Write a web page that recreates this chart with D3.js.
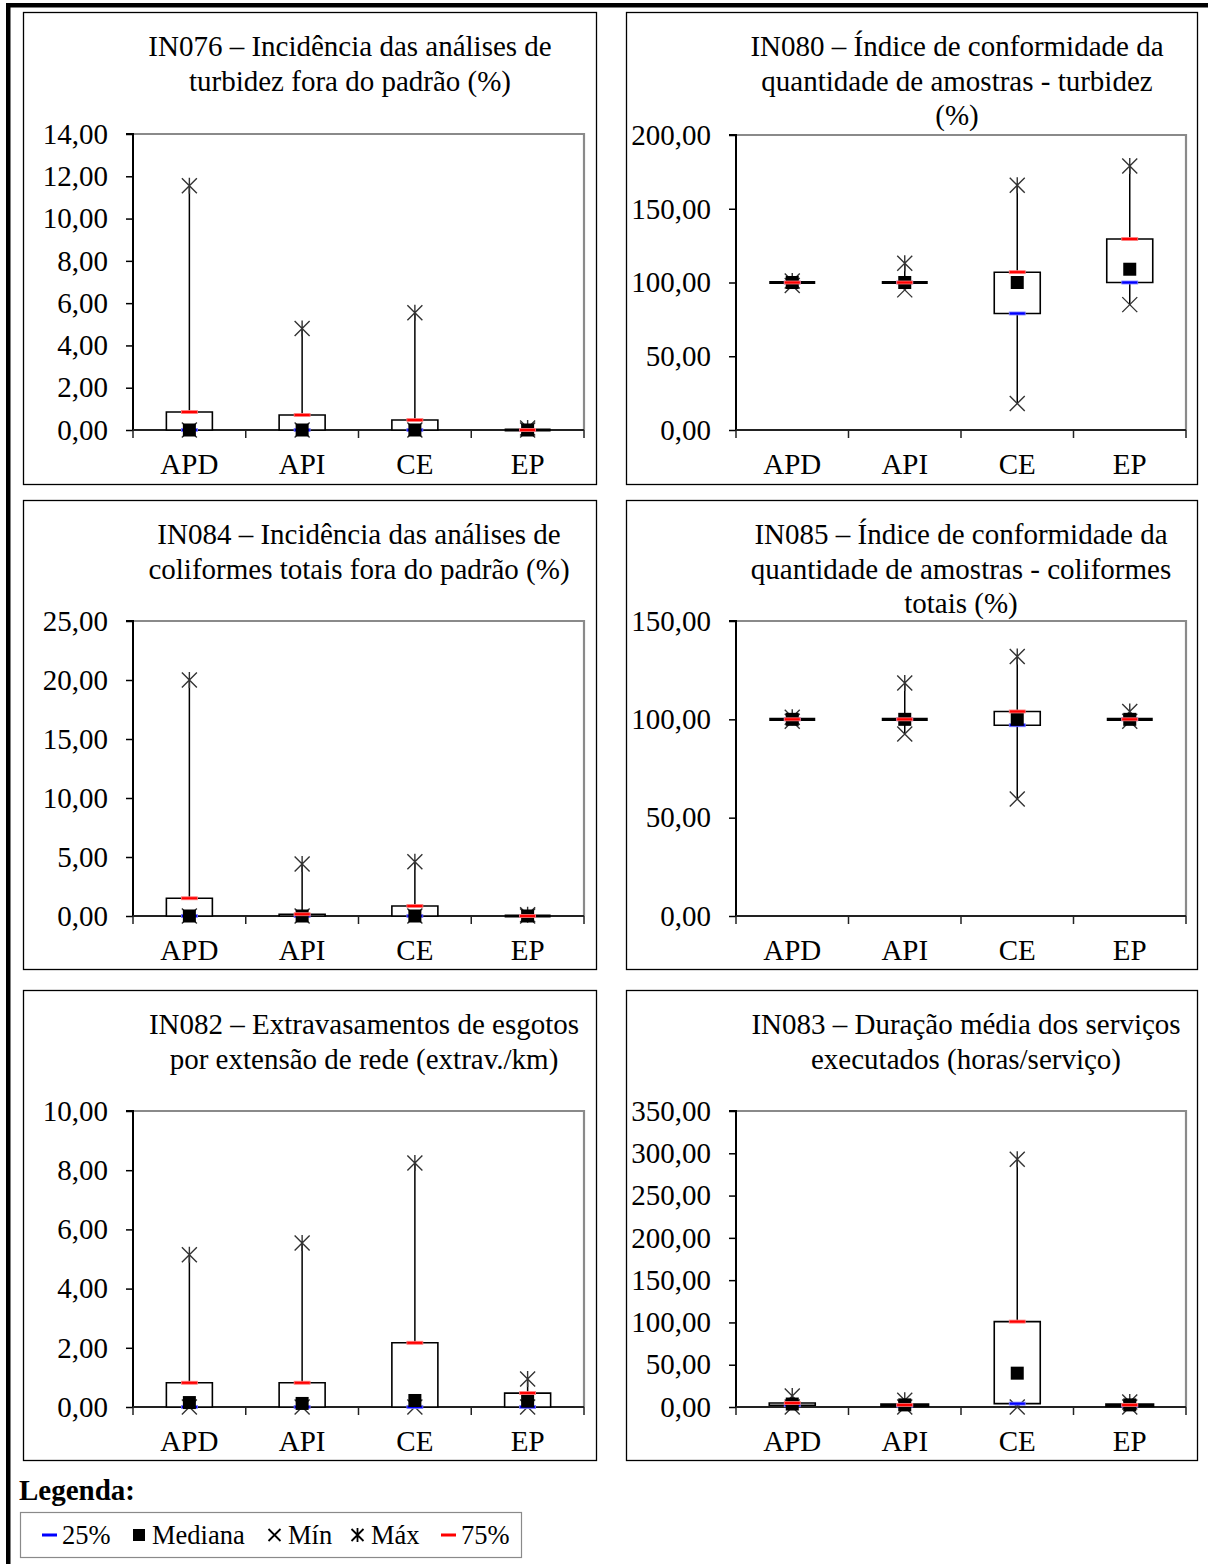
<!DOCTYPE html>
<html><head><meta charset="utf-8">
<script src="https://cdnjs.cloudflare.com/ajax/libs/d3/7.8.5/d3.min.js"></script>
<style>
html,body{margin:0;padding:0;background:#fff;}
svg text{font-family:"Liberation Serif","Times New Roman",serif;fill:#000;}
</style></head>
<body>
<svg id="c" width="1208" height="1564"></svg>
<script>
// ---------- DATA ----------
const categories = ["APD", "API", "CE", "EP"];
const titles = [
  ["IN076 – Incidência das análises de", "turbidez fora do padrão (%)"],
  ["IN080 – Índice de conformidade da", "quantidade de amostras - turbidez", "(%)"],
  ["IN084 – Incidência das análises de", "coliformes totais fora do padrão (%)"],
  ["IN085 – Índice de conformidade da", "quantidade de amostras - coliformes", "totais (%)"],
  ["IN082 – Extravasamentos de esgotos", "por extensão de rede (extrav./km)"],
  ["IN083 – Duração média dos serviços", "executados (horas/serviço)"]
];
const yTicks = [
  [0, 2, 4, 6, 8, 10, 12, 14],
  [0, 50, 100, 150, 200],
  [0, 5, 10, 15, 20, 25],
  [0, 50, 100, 150],
  [0, 2, 4, 6, 8, 10],
  [0, 50, 100, 150, 200, 250, 300, 350]
];
// per indicator: values for APD, API, CE, EP
const in076Min = [0, 0, 0, 0];
const in076Q1  = [0, 0, 0, 0];
const in076Med = [0, 0, 0, 0];
const in076Q3  = [0.85, 0.71, 0.47, 0];
const in076Max = [11.55, 4.8, 5.55, 0.1];

const in080Min = [98, 95, 18, 85];
const in080Q1  = [100, 100, 79, 100];
const in080Med = [100, 100, 100, 109];
const in080Q3  = [100, 100, 107, 129.5];
const in080Max = [101, 113, 166, 179];

const in084Min = [0, 0, 0, 0];
const in084Q1  = [0, 0, 0, 0];
const in084Med = [0, 0, 0, 0];
const in084Q3  = [1.5, 0.15, 0.85, 0];
const in084Max = [20.0, 4.4, 4.6, 0.1];

const in085Min = [99, 92.5, 59.5, 99];
const in085Q1  = [100, 100, 97, 100];
const in085Med = [100, 100, 100, 100];
const in085Q3  = [100, 100, 104, 100];
const in085Max = [101, 118.5, 132, 104];

const in082Min = [0, 0, 0, 0];
const in082Q1  = [0, 0, 0, 0];
const in082Med = [0.15, 0.12, 0.22, 0.2];
const in082Q3  = [0.82, 0.82, 2.17, 0.47];
const in082Max = [5.14, 5.54, 8.24, 0.95];

const in083Min = [0, 0, 0, 0];
const in083Q1  = [2, 1.5, 4, 1.5];
const in083Med = [3.5, 2.5, 40, 2.5];
const in083Q3  = [4.7, 2.5, 101, 2.5];
const in083Max = [13, 8, 293, 6];

const seriesSets = [
  [in076Min, in076Q1, in076Med, in076Q3, in076Max],
  [in080Min, in080Q1, in080Med, in080Q3, in080Max],
  [in084Min, in084Q1, in084Med, in084Q3, in084Max],
  [in085Min, in085Q1, in085Med, in085Q3, in085Max],
  [in082Min, in082Q1, in082Med, in082Q3, in082Max],
  [in083Min, in083Q1, in083Med, in083Q3, in083Max]
];
const legendLabels = ["25%", "Mediana", "Mín", "Máx", "75%"];

// ---------- LAYOUT ----------
const panelBoxes = [
  {x: 23, y: 12, w: 573, h: 472, pl: 133, pr: 584, pt: 134, pb: 430, tc: 350},
  {x: 626, y: 12, w: 571, h: 472, pl: 736, pr: 1186, pt: 135, pb: 430, tc: 957},
  {x: 23, y: 500, w: 573, h: 469, pl: 133, pr: 584, pt: 621, pb: 916, tc: 359},
  {x: 626, y: 500, w: 571, h: 469, pl: 736, pr: 1186, pt: 621, pb: 916, tc: 961},
  {x: 23, y: 990, w: 573, h: 470, pl: 133, pr: 584, pt: 1111, pb: 1407, tc: 364},
  {x: 626, y: 990, w: 571, h: 470, pl: 736, pr: 1186, pt: 1111, pb: 1407, tc: 966}
];

const svg = d3.select("#c");
const fmt = d3.formatLocale({decimal: ",", thousands: ".", grouping: [3], currency: ["", ""]}).format(".2f");

// outer thick border
svg.append("rect").attr("x", 6).attr("y", 3).attr("width", 1202).attr("height", 4.5).attr("fill", "#000");
svg.append("rect").attr("x", 6).attr("y", 3).attr("width", 4.5).attr("height", 1561).attr("fill", "#000");

function crossPath(cx, cy, s) {
  return `M${cx - s},${cy - s}L${cx + s},${cy + s}M${cx - s},${cy + s}L${cx + s},${cy - s}`;
}

panelBoxes.forEach((p, i) => {
  const g = svg.append("g");
  g.append("rect").attr("x", p.x + 0.5).attr("y", p.y + 0.5).attr("width", p.w).attr("height", p.h)
    .attr("fill", "#fff").attr("stroke", "#000").attr("stroke-width", 1.3);

  // title
  titles[i].forEach((line, k) => {
    g.append("text").attr("x", p.tc).attr("y", p.y + 44 + k * 34.5)
      .attr("text-anchor", "middle").attr("font-size", 29).text(line);
  });

  const ticks = yTicks[i];
  const y = d3.scaleLinear().domain([0, ticks[ticks.length - 1]]).range([p.pb, p.pt]);
  const x = d3.scaleBand().domain(categories).range([p.pl, p.pr]).paddingInner(0).paddingOuter(0);

  // plot frame top/right (gray)
  g.append("path").attr("d", `M${p.pl},${p.pt}H${p.pr}V${p.pb}`)
    .attr("fill", "none").attr("stroke", "#8a8a8a").attr("stroke-width", 2.2);

  // y axis
  const ya = g.append("g").attr("transform", `translate(${p.pl},0)`)
    .call(d3.axisLeft(y).tickValues(ticks).tickSize(7).tickPadding(18).tickFormat(fmt));
  ya.select(".domain").attr("stroke", "#000").attr("stroke-width", 2).attr("d", `M-7,${p.pt}H0V${p.pb}`);
  ya.selectAll(".tick line").attr("stroke", "#000").attr("stroke-width", 1.5);
  ya.selectAll(".tick text").attr("font-size", 29).attr("font-family", "Liberation Serif, Times New Roman, serif").attr("fill", "#000");

  // x axis
  g.append("line").attr("x1", p.pl).attr("x2", p.pr).attr("y1", p.pb).attr("y2", p.pb)
    .attr("stroke", "#222").attr("stroke-width", 2);
  const bounds = categories.map(c => x(c)).concat([p.pr]);
  g.selectAll(".xt").data(bounds).join("line")
    .attr("x1", d => d).attr("x2", d => d).attr("y1", p.pb).attr("y2", p.pb + 8)
    .attr("stroke", "#222").attr("stroke-width", 1.5);
  g.selectAll(".xl").data(categories).join("text")
    .attr("x", d => x(d) + x.bandwidth() / 2).attr("y", p.pb + 44)
    .attr("text-anchor", "middle").attr("font-size", 29).text(d => d);

  const [mn, q1, md, q3, mx] = seriesSets[i];
  const bw = 46;
  categories.forEach((c, j) => {
    const cx = x(c) + x.bandwidth() / 2;
    // whiskers
    g.append("line").attr("x1", cx).attr("x2", cx).attr("y1", y(q3[j])).attr("y2", y(mx[j]))
      .attr("stroke", "#000").attr("stroke-width", 1.5);
    g.append("line").attr("x1", cx).attr("x2", cx).attr("y1", y(q1[j])).attr("y2", y(mn[j]))
      .attr("stroke", "#000").attr("stroke-width", 1.5);
    // box (path so that zero-height boxes still draw as a thick line)
    const top = y(q3[j]), bot = y(q1[j]);
    const flat = bot - top < 1;
    g.append("path")
      .attr("d", `M${cx - bw / 2},${top}H${cx + bw / 2}V${bot}H${cx - bw / 2}Z`)
      .attr("fill", "#fff").attr("stroke", "#000").attr("stroke-width", flat ? 3.2 : 1.6);
    // min ×
    g.append("path").attr("d", crossPath(cx, y(mn[j]), 7.5))
      .attr("stroke", "#333").attr("stroke-width", 1.4).attr("fill", "none");
    // max asterisk
    g.append("path").attr("d", crossPath(cx, y(mx[j]), 7.5) + `M${cx},${y(mx[j]) - 8}V${y(mx[j]) + 8}`)
      .attr("stroke", "#333").attr("stroke-width", 1.4).attr("fill", "none");
    // 25%
    g.append("rect").attr("x", cx - 8).attr("y", y(q1[j]) - 1.5).attr("width", 16).attr("height", 3)
      .attr("fill", "#0000ff").attr("stroke", "#8080ff").attr("stroke-width", 0.8);
    // median
    g.append("rect").attr("x", cx - 6.5).attr("y", y(md[j]) - 6.5).attr("width", 13).attr("height", 13)
      .attr("fill", "#000");
    // 75%
    g.append("rect").attr("x", cx - 8).attr("y", y(q3[j]) - 1.5).attr("width", 16).attr("height", 3)
      .attr("fill", "#ff0000").attr("stroke", "#ff8080").attr("stroke-width", 0.8);
  });
});

// ---------- LEGEND ----------
svg.append("text").attr("x", 19).attr("y", 1500).attr("font-size", 29).attr("font-weight", "bold").text("Legenda:");
const lg = svg.append("g");
lg.append("rect").attr("x", 20.5).attr("y", 1512.5).attr("width", 501).attr("height", 45)
  .attr("fill", "#fff").attr("stroke", "#8a8a8a").attr("stroke-width", 1.2);
const ly = 1535;
const textX = [62, 152, 288, 371, 461];
// symbols
lg.append("rect").attr("x", 42).attr("y", ly - 1.5).attr("width", 15).attr("height", 3).attr("fill", "#0000ff");
lg.append("rect").attr("x", 133).attr("y", ly - 6).attr("width", 12).attr("height", 12).attr("fill", "#000");
lg.append("path").attr("d", crossPath(274.5, ly, 6)).attr("stroke", "#000").attr("stroke-width", 1.8).attr("fill", "none");
lg.append("path").attr("d", crossPath(357.5, ly, 6) + `M357.5,${ly - 7}V${ly + 7}`).attr("stroke", "#000").attr("stroke-width", 1.8).attr("fill", "none");
lg.append("rect").attr("x", 441).attr("y", ly - 1.5).attr("width", 15).attr("height", 3).attr("fill", "#ff0000");
lg.selectAll(".lt").data(legendLabels).join("text")
  .attr("x", (d, k) => textX[k]).attr("y", ly + 9).attr("font-size", 26.5).text(d => d);
</script>
</body></html>
